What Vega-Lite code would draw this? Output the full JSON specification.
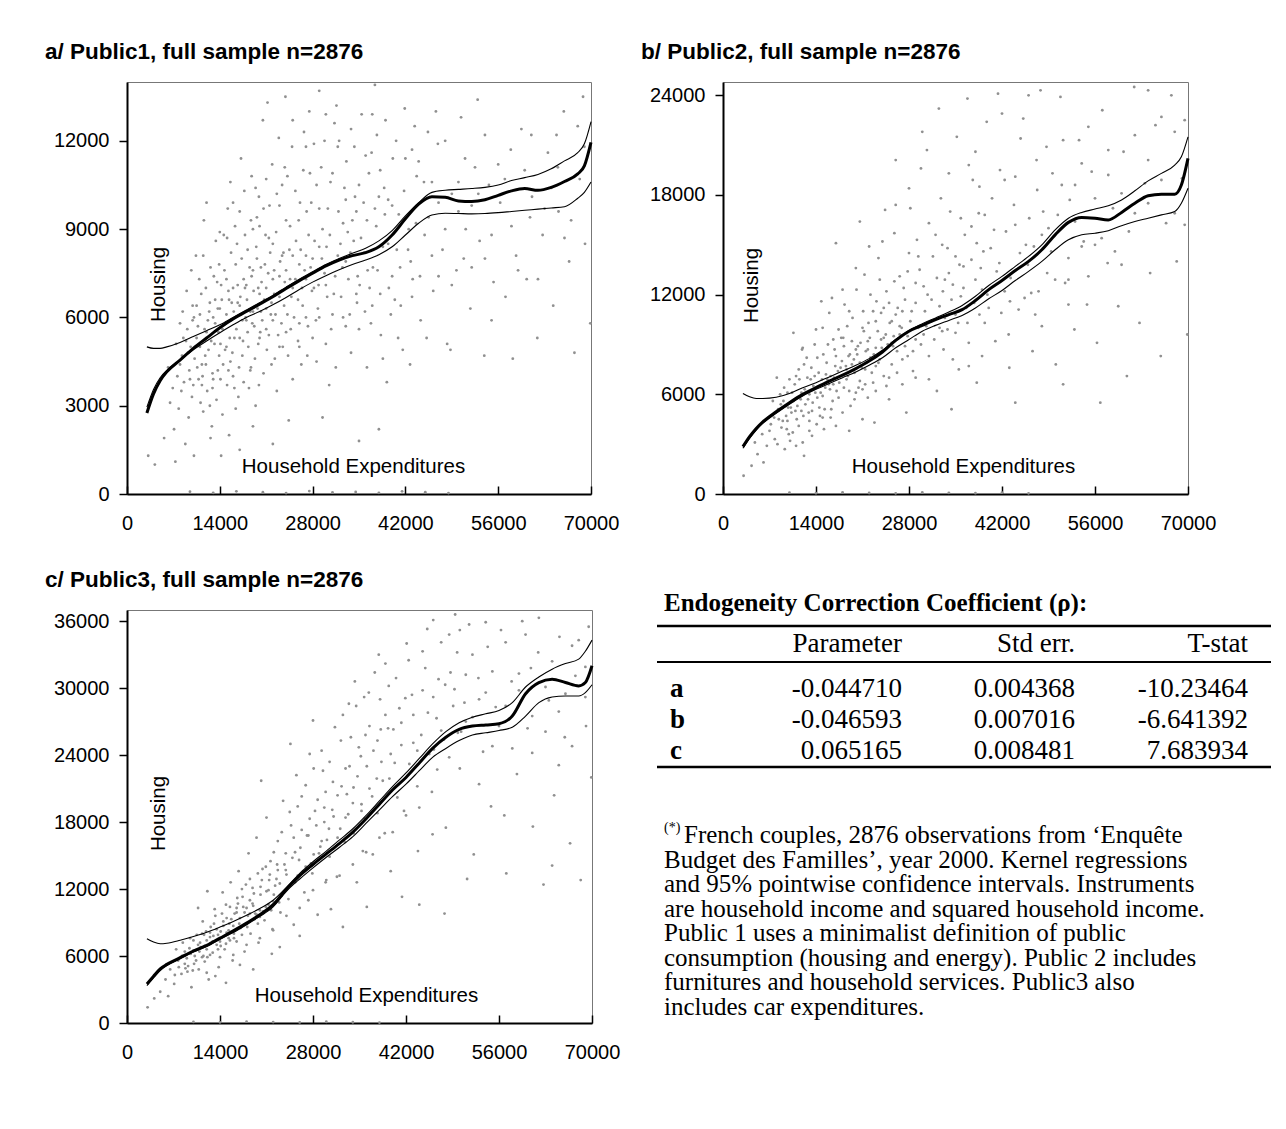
{
  "$schema": "https://vega.github.io/schema/vega-lite/v6.json",
  "background": "white",
  "padding": {"left": 44, "top": 40, "right": 5, "bottom": 5},
  "spacing": 34,
  "bounds": "full",
  "datasets": {
    "pa": [
      {"x":6200,"y":4300},{"x":6900,"y":3600},{"x":7400,"y":5100},{"x":7800,"y":2900},{"x":8300,"y":4700},{"x":8600,"y":3800},{"x":9100,"y":5600},{"x":9400,"y":4200},{"x":9800,"y":3300},{"x":9900,"y":6400},{"x":7100,"y":2200},{"x":8800,"y":1700},{"x":9600,"y":5000},{"x":6500,"y":3100},{"x":8000,"y":5800},{"x":9300,"y":2600},{"x":9700,"y":7600},{"x":8400,"y":6200},
      {"x":10200,"y":4600},{"x":10500,"y":5300},{"x":10800,"y":3900},{"x":11000,"y":6100},{"x":11300,"y":4400},{"x":11500,"y":2800},{"x":11700,"y":5600},{"x":11900,"y":7000},{"x":12100,"y":3500},{"x":12300,"y":4900},{"x":12500,"y":6500},{"x":12700,"y":5200},{"x":12900,"y":4100},{"x":13100,"y":7400},{"x":13300,"y":5800},{"x":13500,"y":3200},{"x":13700,"y":6300},{"x":13900,"y":4700},{"x":10400,"y":8100},{"x":11600,"y":9300},{"x":12800,"y":2300},{"x":13400,"y":8600},{"x":10900,"y":7300},{"x":12200,"y":5900},{"x":13800,"y":5500},{"x":11100,"y":3100},
      {"x":14100,"y":5100},{"x":14300,"y":6600},{"x":14500,"y":4400},{"x":14700,"y":7600},{"x":14900,"y":5800},{"x":15100,"y":3700},{"x":15300,"y":6900},{"x":15500,"y":5300},{"x":15700,"y":8200},{"x":15900,"y":4800},{"x":16100,"y":6200},{"x":16300,"y":9100},{"x":16500,"y":5600},{"x":16700,"y":7100},{"x":16900,"y":4300},{"x":17100,"y":6700},{"x":17300,"y":8000},{"x":17500,"y":5200},{"x":17700,"y":10300},{"x":17900,"y":6000},{"x":14400,"y":2700},{"x":15600,"y":10600},{"x":16800,"y":3300},{"x":17200,"y":11400},{"x":14600,"y":8800},{"x":15200,"y":9700},{"x":16400,"y":7800},{"x":17600,"y":7300},{"x":15800,"y":6500},{"x":16000,"y":4000},
      {"x":18100,"y":6600},{"x":18300,"y":5000},{"x":18500,"y":7700},{"x":18700,"y":9300},{"x":18900,"y":5800},{"x":19100,"y":6900},{"x":19300,"y":4600},{"x":19500,"y":8400},{"x":19700,"y":6300},{"x":19900,"y":10100},{"x":20100,"y":5500},{"x":20300,"y":7200},{"x":20500,"y":12700},{"x":20700,"y":6600},{"x":20900,"y":8800},{"x":21100,"y":4900},{"x":21300,"y":7500},{"x":21500,"y":9800},{"x":21700,"y":6100},{"x":21900,"y":11200},{"x":18400,"y":3600},{"x":19400,"y":3000},{"x":20600,"y":4100},{"x":21200,"y":13300},{"x":18800,"y":10800},{"x":20000,"y":9100},{"x":21600,"y":8200},{"x":19800,"y":7000},{"x":18600,"y":6200},{"x":20400,"y":5900},
      {"x":22200,"y":6800},{"x":22500,"y":8900},{"x":22800,"y":5400},{"x":23100,"y":7900},{"x":23400,"y":10500},{"x":23700,"y":6400},{"x":24000,"y":9300},{"x":24300,"y":4700},{"x":24600,"y":7300},{"x":24900,"y":11800},{"x":25200,"y":6000},{"x":25500,"y":8600},{"x":25800,"y":5200},{"x":26100,"y":9900},{"x":26400,"y":7000},{"x":26700,"y":12300},{"x":27000,"y":8100},{"x":27300,"y":5700},{"x":27600,"y":10900},{"x":27900,"y":6900},{"x":22600,"y":3500},{"x":23900,"y":13500},{"x":25000,"y":3900},{"x":26300,"y":4400},{"x":27500,"y":13000},{"x":22900,"y":12100},{"x":24500,"y":8300},{"x":26800,"y":7600},
      {"x":28300,"y":8600},{"x":28800,"y":6300},{"x":29300,"y":11100},{"x":29800,"y":7500},{"x":30300,"y":9700},{"x":30800,"y":5600},{"x":31300,"y":12600},{"x":31800,"y":8100},{"x":32300,"y":6700},{"x":32800,"y":10400},{"x":33300,"y":8900},{"x":33800,"y":4800},{"x":34300,"y":11800},{"x":34800,"y":7400},{"x":29000,"y":13700},{"x":30500,"y":3700},{"x":31600,"y":13200},{"x":32600,"y":9200},{"x":33600,"y":6100},{"x":34600,"y":9600},{"x":28600,"y":4500},{"x":30000,"y":7100},
      {"x":35300,"y":8700},{"x":35900,"y":6200},{"x":36500,"y":10900},{"x":37100,"y":7700},{"x":37700,"y":12200},{"x":38300,"y":5400},{"x":38900,"y":9500},{"x":39500,"y":7000},{"x":40100,"y":11400},{"x":40700,"y":8300},{"x":41300,"y":6400},{"x":41900,"y":13100},{"x":42500,"y":9000},{"x":43100,"y":7300},{"x":43700,"y":10800},{"x":44300,"y":5900},{"x":44900,"y":8800},{"x":36200,"y":4300},{"x":39200,"y":3800},{"x":41600,"y":4900},{"x":43400,"y":12500},{"x":37400,"y":13900},{"x":40400,"y":6600},{"x":42800,"y":7900},
      {"x":45500,"y":9400},{"x":46200,"y":6900},{"x":46900,"y":11900},{"x":47600,"y":8300},{"x":48300,"y":5100},{"x":49000,"y":10200},{"x":49700,"y":7600},{"x":50400,"y":12800},{"x":51100,"y":9000},{"x":51800,"y":6300},{"x":52500,"y":11100},{"x":53200,"y":8600},{"x":53900,"y":4700},{"x":54600,"y":10500},{"x":55300,"y":7200},{"x":46600,"y":13000},{"x":48800,"y":4900},{"x":50800,"y":8000},{"x":52900,"y":13400},{"x":55000,"y":5900},
      {"x":56300,"y":9900},{"x":57100,"y":6700},{"x":57900,"y":11700},{"x":58700,"y":8100},{"x":59500,"y":12400},{"x":60300,"y":7300},{"x":61100,"y":10100},{"x":61900,"y":5300},{"x":62700,"y":8800},{"x":63500,"y":11600},{"x":64300,"y":6400},{"x":65100,"y":9600},{"x":65900,"y":13000},{"x":66700,"y":7900},{"x":67500,"y":4800},{"x":68300,"y":10700},{"x":69100,"y":8500},{"x":69900,"y":5800},{"x":58200,"y":4600},{"x":60800,"y":9400},{"x":64800,"y":12200},{"x":68800,"y":13500},
      {"x":3200,"y":1300},{"x":4200,"y":1000},{"x":5600,"y":1900},{"x":7300,"y":1100},{"x":10100,"y":1300},{"x":12600,"y":1900},{"x":14200,"y":1300},{"x":15400,"y":2000},{"x":17000,"y":1500},{"x":19000,"y":2300},{"x":22000,"y":1700},{"x":24400,"y":2500},{"x":29500,"y":2600},{"x":35000,"y":1800},{"x":38000,"y":2200},
      {"x":12000,"y":5500},{"x":13000,"y":6000},{"x":14000,"y":6300},{"x":15000,"y":6100},{"x":16000,"y":7000},{"x":17000,"y":6400},{"x":18000,"y":7100},{"x":19000,"y":7600},{"x":20000,"y":6800},{"x":21000,"y":7000},{"x":22000,"y":7300},{"x":23000,"y":6700},{"x":24000,"y":7600},{"x":25000,"y":8100},{"x":26000,"y":7800},{"x":27000,"y":7300},{"x":28000,"y":8000},{"x":29000,"y":8400},{"x":11000,"y":5000},{"x":13600,"y":7200},{"x":15400,"y":6600},{"x":17400,"y":5900},{"x":19600,"y":8000},{"x":21800,"y":6500},{"x":23600,"y":8200},
      {"x":8500,"y":5300},{"x":9200,"y":4800},{"x":9900,"y":5900},{"x":10600,"y":4300},{"x":11200,"y":6800},{"x":11800,"y":4700},{"x":12400,"y":6200},{"x":13200,"y":5100},{"x":13900,"y":7800},{"x":14400,"y":5600},{"x":15000,"y":7300},{"x":15600,"y":4500},{"x":16200,"y":5300},{"x":16600,"y":8500},{"x":17200,"y":6100},{"x":17800,"y":8800},{"x":18200,"y":5500},{"x":18800,"y":7400},{"x":19200,"y":5700},{"x":19600,"y":9400},{"x":20200,"y":6200},{"x":20800,"y":7800},{"x":21400,"y":5400},{"x":22000,"y":8500},{"x":22400,"y":6100},{"x":23000,"y":9800},{"x":23300,"y":5800},{"x":23800,"y":7200},{"x":24200,"y":10800},{"x":24800,"y":6700},{"x":25400,"y":7300},{"x":25900,"y":9300},{"x":26500,"y":6400},{"x":27100,"y":9600},{"x":27700,"y":7700},{"x":28200,"y":11900},{"x":28900,"y":7100},{"x":29500,"y":9000},{"x":30100,"y":8400},{"x":30700,"y":10600},{"x":31200,"y":6800},{"x":31900,"y":9600},{"x":32500,"y":7700},{"x":33100,"y":11300},{"x":33700,"y":8200},{"x":34400,"y":10100},{"x":35100,"y":7100},{"x":35700,"y":9900},{"x":36300,"y":7600},{"x":36900,"y":11600},{"x":37600,"y":9100},{"x":38200,"y":6800},{"x":38800,"y":10400},{"x":39400,"y":8500},{"x":40000,"y":9800},{"x":40600,"y":12000},{"x":41200,"y":7700},{"x":41800,"y":10300},{"x":42400,"y":8300},{"x":43000,"y":11700},{"x":43600,"y":9200},{"x":44200,"y":7400},{"x":44800,"y":10600},{"x":45400,"y":12300},{"x":46000,"y":8100},{"x":47000,"y":9900},{"x":48000,"y":12000},{"x":49000,"y":7100},{"x":50000,"y":9600},{"x":51000,"y":11400},{"x":52000,"y":7700},{"x":53000,"y":10200},{"x":54000,"y":12200},{"x":55000,"y":8800},{"x":57000,"y":10700},{"x":59000,"y":7600},{"x":61000,"y":12200},{"x":63000,"y":9700},{"x":65000,"y":11100},{"x":67000,"y":9300},{"x":69000,"y":11800},
      {"x":10000,"y":3700},{"x":11400,"y":4000},{"x":12900,"y":3600},{"x":14100,"y":3900},{"x":15300,"y":4200},{"x":16400,"y":2900},{"x":17600,"y":3800},{"x":18700,"y":4300},{"x":19900,"y":3700},{"x":21000,"y":5600},{"x":22300,"y":4600},{"x":23500,"y":5000},{"x":24700,"y":5600},{"x":26000,"y":5800},{"x":27200,"y":4700},{"x":28500,"y":5900},{"x":30000,"y":5100},{"x":31500,"y":4300},{"x":33000,"y":5700},{"x":34700,"y":6500},{"x":36800,"y":5800},{"x":38600,"y":4600},{"x":40900,"y":5300},{"x":42700,"y":4400},{"x":45200,"y":5300},
      {"x":7600,"y":4000},{"x":8200,"y":3500},{"x":8900,"y":5200},{"x":9500,"y":3900},{"x":10100,"y":6000},{"x":10700,"y":5700},{"x":11300,"y":3700},{"x":11900,"y":4400},{"x":12500,"y":3000},{"x":12600,"y":7700},{"x":13300,"y":6600},{"x":13700,"y":4200},{"x":14200,"y":7100},{"x":14800,"y":4900},{"x":15100,"y":8700},{"x":15700,"y":5900},{"x":16200,"y":3600},{"x":16700,"y":6500},{"x":17000,"y":9600},{"x":17400,"y":4700},{"x":17800,"y":7000},{"x":18200,"y":8300},{"x":18600,"y":4200},{"x":19000,"y":6200},{"x":19400,"y":10400},{"x":19800,"y":5100},{"x":20200,"y":7700},{"x":20600,"y":9700},{"x":21000,"y":6300},{"x":21400,"y":8700},{"x":21800,"y":4400},{"x":22200,"y":7600},{"x":22600,"y":10200},{"x":23000,"y":5000},{"x":23400,"y":8100},{"x":23800,"y":11100},{"x":24200,"y":6100},{"x":24600,"y":9100},{"x":25000,"y":7000},{"x":25400,"y":10300},{"x":25800,"y":6600},{"x":26200,"y":8300},{"x":26600,"y":11000},{"x":27000,"y":6000},{"x":27400,"y":8800},{"x":27800,"y":9900},{"x":28200,"y":7000},{"x":28600,"y":10500},{"x":29000,"y":6000},{"x":29400,"y":8000},{"x":29800,"y":12000},{"x":30200,"y":6700},{"x":30600,"y":8800},{"x":31000,"y":10900},{"x":31400,"y":7400},{"x":31800,"y":11800},{"x":32200,"y":8500},{"x":32600,"y":6000},{"x":33000,"y":10000},{"x":33400,"y":7300},{"x":33800,"y":12400},{"x":34200,"y":8600},{"x":34600,"y":6800},{"x":35000,"y":10500},{"x":35400,"y":12900},{"x":35800,"y":8200},{"x":36200,"y":9300},{"x":36600,"y":7000},{"x":37000,"y":12900},{"x":37400,"y":9700},{"x":37800,"y":7600},{"x":38200,"y":11000},{"x":38600,"y":8400},{"x":39000,"y":12700},{"x":39400,"y":10000},{"x":39800,"y":6100},
      {"x":8000,"y":4400},{"x":9000,"y":6900},{"x":10500,"y":6400},{"x":11500,"y":8100},{"x":12000,"y":9900},{"x":13000,"y":3900},{"x":14000,"y":8900},{"x":15000,"y":5000},{"x":16000,"y":9900},{"x":17000,"y":5300},{"x":18000,"y":5900},{"x":19000,"y":9000},{"x":20000,"y":5300},{"x":21000,"y":10700},{"x":22000,"y":5900},{"x":23000,"y":7400},{"x":24000,"y":5500},{"x":25000,"y":12700},{"x":26000,"y":5000},{"x":27000,"y":11800},{"x":28000,"y":5300},{"x":29000,"y":9700},{"x":30000,"y":12900},{"x":31000,"y":6100},{"x":32000,"y":12000},{"x":33000,"y":7900},{"x":34000,"y":9300},{"x":35000,"y":5600},{"x":36000,"y":11500},{"x":37000,"y":6400},{"x":38000,"y":10100},{"x":40000,"y":7400},{"x":41000,"y":9500},{"x":42000,"y":11400},{"x":43000,"y":6700},{"x":44000,"y":11300},{"x":46000,"y":10600},{"x":47000,"y":7400},{"x":48000,"y":9000},{"x":50000,"y":10600},{"x":52000,"y":9800},{"x":54000,"y":8000},{"x":56000,"y":11200},{"x":58000,"y":9100},{"x":60000,"y":11000},{"x":62000,"y":7300},{"x":64000,"y":10400},{"x":66000,"y":8700},{"x":68000,"y":12500},
      {"x":9500,"y":80},{"x":13000,"y":40},{"x":16500,"y":90},{"x":20500,"y":60},{"x":24000,"y":30},{"x":27500,"y":100},{"x":31000,"y":50},{"x":34500,"y":70},{"x":38000,"y":40},{"x":41500,"y":90},{"x":45000,"y":60},{"x":48500,"y":30}
    ],
    "pb": [
      {"x":3100,"y":1100},{"x":4300,"y":1700},{"x":5200,"y":2400},{"x":5900,"y":3600},{"x":6600,"y":2900},{"x":7200,"y":4200},{"x":7800,"y":3300},{"x":8300,"y":5100},{"x":8800,"y":4000},{"x":9300,"y":2700},{"x":9700,"y":6100},{"x":6100,"y":1900},{"x":8100,"y":7000},{"x":9500,"y":4700},{"x":7500,"y":5600},{"x":4800,"y":3100},{"x":9900,"y":3600},{"x":8600,"y":6000},
      {"x":10200,"y":5200},{"x":10500,"y":3700},{"x":10800,"y":6600},{"x":11100,"y":4500},{"x":11400,"y":7500},{"x":11700,"y":5700},{"x":12000,"y":3100},{"x":12300,"y":6300},{"x":12600,"y":8200},{"x":12900,"y":4900},{"x":13200,"y":6900},{"x":13500,"y":5500},{"x":13800,"y":9000},{"x":14100,"y":4200},{"x":14400,"y":7300},{"x":14700,"y":6100},{"x":15000,"y":10000},{"x":15300,"y":5100},{"x":15600,"y":7900},{"x":15900,"y":6600},{"x":10600,"y":9700},{"x":12200,"y":2300},{"x":13400,"y":3500},{"x":14800,"y":11600},{"x":11900,"y":8700},{"x":15200,"y":3900},
      {"x":16200,"y":7100},{"x":16500,"y":5600},{"x":16800,"y":8700},{"x":17100,"y":6200},{"x":17400,"y":9900},{"x":17700,"y":7600},{"x":18000,"y":4900},{"x":18300,"y":11400},{"x":18600,"y":6900},{"x":18900,"y":8300},{"x":19200,"y":5300},{"x":19500,"y":10600},{"x":19800,"y":7300},{"x":20100,"y":12300},{"x":20400,"y":6400},{"x":20700,"y":9100},{"x":21000,"y":4500},{"x":21300,"y":13200},{"x":21600,"y":7900},{"x":21900,"y":10300},{"x":17000,"y":15100},{"x":19000,"y":3800},{"x":20600,"y":16400},{"x":21800,"y":5800},{"x":16400,"y":11800},{"x":18100,"y":9400},{"x":20000,"y":8700},{"x":21400,"y":6600},
      {"x":22200,"y":8200},{"x":22600,"y":11000},{"x":23000,"y":6200},{"x":23400,"y":14200},{"x":23800,"y":9300},{"x":24200,"y":7100},{"x":24600,"y":12200},{"x":25000,"y":5700},{"x":25400,"y":10400},{"x":25800,"y":15700},{"x":26200,"y":8600},{"x":26600,"y":13100},{"x":27000,"y":6600},{"x":27400,"y":11700},{"x":27800,"y":9500},{"x":28200,"y":17200},{"x":28600,"y":7400},{"x":29000,"y":12700},{"x":29400,"y":10000},{"x":29800,"y":19600},{"x":22800,"y":4300},{"x":24400,"y":17100},{"x":26000,"y":20100},{"x":27600,"y":4900},{"x":29200,"y":15300},{"x":23600,"y":12900},{"x":25600,"y":8900},{"x":28000,"y":14500},
      {"x":30400,"y":11000},{"x":31000,"y":8300},{"x":31600,"y":14300},{"x":32200,"y":6200},{"x":32800,"y":17800},{"x":33400,"y":10600},{"x":34000,"y":13300},{"x":34600,"y":8100},{"x":35200,"y":21500},{"x":35800,"y":11900},{"x":36400,"y":15600},{"x":37000,"y":9100},{"x":37600,"y":18900},{"x":38200,"y":6700},{"x":38800,"y":13600},{"x":39400,"y":10300},{"x":30700,"y":20700},{"x":32500,"y":23200},{"x":34400,"y":5100},{"x":36800,"y":23800},{"x":38500,"y":16900},{"x":39700,"y":22400},{"x":33100,"y":12200},{"x":35500,"y":7500},
      {"x":40300,"y":14800},{"x":41000,"y":9200},{"x":41700,"y":19500},{"x":42400,"y":12200},{"x":43100,"y":7600},{"x":43800,"y":17400},{"x":44500,"y":11100},{"x":45200,"y":22600},{"x":45900,"y":13800},{"x":46600,"y":8600},{"x":47300,"y":18300},{"x":48000,"y":10100},{"x":48700,"y":20900},{"x":49400,"y":14600},{"x":50100,"y":7800},{"x":50800,"y":23900},{"x":51500,"y":12700},{"x":52200,"y":17700},{"x":52900,"y":9900},{"x":53600,"y":21300},{"x":54300,"y":15200},{"x":41400,"y":24100},{"x":44000,"y":5500},{"x":47800,"y":24300},{"x":51200,"y":6600},{"x":54800,"y":11400},
      {"x":55500,"y":19400},{"x":56300,"y":9100},{"x":57100,"y":23100},{"x":57900,"y":13900},{"x":58700,"y":17200},{"x":59500,"y":11300},{"x":60300,"y":20600},{"x":61100,"y":15800},{"x":61900,"y":24500},{"x":62700,"y":10300},{"x":63500,"y":18700},{"x":64300,"y":13300},{"x":65100,"y":22200},{"x":65900,"y":8300},{"x":66700,"y":16300},{"x":67500,"y":24000},{"x":68300,"y":14000},{"x":69100,"y":19000},{"x":69900,"y":9600},{"x":56800,"y":5500},{"x":60800,"y":7100},{"x":64000,"y":24300},{"x":69500,"y":22500},
      {"x":9000,"y":4400},{"x":10300,"y":4900},{"x":11200,"y":5300},{"x":11800,"y":6100},{"x":12400,"y":5400},{"x":13000,"y":6000},{"x":13600,"y":6500},{"x":14200,"y":5800},{"x":14900,"y":6900},{"x":15500,"y":7200},{"x":16100,"y":6300},{"x":16700,"y":7000},{"x":17300,"y":7400},{"x":17900,"y":8000},{"x":18500,"y":7700},{"x":19100,"y":8400},{"x":19700,"y":8100},{"x":20300,"y":8900},{"x":20900,"y":7600},{"x":21500,"y":8600},{"x":22100,"y":9400},{"x":22700,"y":8400},{"x":23300,"y":9800},{"x":23900,"y":8800},{"x":24500,"y":9600},{"x":25100,"y":10300},{"x":25700,"y":9500},{"x":26300,"y":11200},{"x":26900,"y":10000},{"x":9800,"y":5200},{"x":12700,"y":7000},{"x":16600,"y":9300},{"x":18700,"y":10100},{"x":21100,"y":11000},{"x":23100,"y":11600},
      {"x":8400,"y":4500},{"x":9100,"y":5600},{"x":9600,"y":3900},{"x":10400,"y":6100},{"x":10900,"y":5000},{"x":11500,"y":6900},{"x":12100,"y":4700},{"x":12800,"y":5700},{"x":13300,"y":7600},{"x":13900,"y":6100},{"x":14500,"y":5200},{"x":15100,"y":8400},{"x":15700,"y":6900},{"x":16300,"y":5100},{"x":16900,"y":7700},{"x":17500,"y":6700},{"x":18200,"y":8900},{"x":18800,"y":7100},{"x":19400,"y":9200},{"x":20000,"y":6100},{"x":20600,"y":7900},{"x":21200,"y":9800},{"x":21800,"y":8700},{"x":22400,"y":7300},{"x":23000,"y":10400},{"x":23600,"y":8100},{"x":24200,"y":11200},{"x":24800,"y":9000},{"x":25400,"y":7800},{"x":26000,"y":10800},{"x":26600,"y":9600},{"x":27200,"y":12400},{"x":27800,"y":8300},{"x":28400,"y":11000},{"x":29000,"y":9300},{"x":29600,"y":13500},{"x":30200,"y":9600},{"x":30800,"y":12000},{"x":31400,"y":10400},{"x":32000,"y":15600},{"x":32600,"y":11300},{"x":33200,"y":8700},{"x":33800,"y":14800},{"x":34400,"y":11700},{"x":35000,"y":9700},{"x":35600,"y":13800},{"x":36200,"y":12400},{"x":36800,"y":10300},{"x":37400,"y":16100},{"x":38000,"y":12900},{"x":38600,"y":10800},{"x":39200,"y":14600},{"x":39800,"y":12000},{"x":40500,"y":17800},{"x":41200,"y":13400},{"x":41900,"y":10900},{"x":42600,"y":15800},{"x":43300,"y":13000},{"x":44000,"y":19100},{"x":44700,"y":14500},{"x":45400,"y":11800},{"x":46100,"y":16600},{"x":46800,"y":14900},{"x":47500,"y":12200},{"x":48200,"y":17000},{"x":49000,"y":16000},{"x":50000,"y":12900},{"x":51000,"y":18600},{"x":52000,"y":14200},{"x":53000,"y":16400},{"x":54000,"y":19900},{"x":55000,"y":13100},{"x":56000,"y":17800},{"x":57000,"y":15400},{"x":58000,"y":20700},{"x":59000,"y":14600},{"x":60000,"y":18100},{"x":62000,"y":16900},{"x":64000,"y":20100},{"x":66000,"y":18900},{"x":68000,"y":21800},{"x":69500,"y":16200},
      {"x":11000,"y":2900},{"x":13000,"y":4400},{"x":15000,"y":4600},{"x":17000,"y":4100},{"x":19000,"y":6200},{"x":21000,"y":6300},{"x":23000,"y":7700},{"x":25000,"y":7000},{"x":27000,"y":8100},{"x":29000,"y":7000},{"x":31000,"y":6900},{"x":33000,"y":9800},{"x":35000,"y":10800},{"x":37000,"y":7700},{"x":39000,"y":8300},{"x":43000,"y":9600},{"x":47000,"y":10800},{"x":52000,"y":11400},
      {"x":7000,"y":3800},{"x":7700,"y":4600},{"x":8200,"y":3000},{"x":8700,"y":5400},{"x":9200,"y":6400},{"x":9700,"y":4400},{"x":10100,"y":3200},{"x":10600,"y":5600},{"x":11000,"y":7100},{"x":11400,"y":4100},{"x":11800,"y":5000},{"x":12200,"y":7800},{"x":12600,"y":6100},{"x":13000,"y":3800},{"x":13400,"y":5000},{"x":13800,"y":7100},{"x":14200,"y":8200},{"x":14600,"y":4700},{"x":15000,"y":5900},{"x":15400,"y":6400},{"x":15800,"y":9000},{"x":16200,"y":4600},{"x":16600,"y":6600},{"x":17000,"y":8300},{"x":17400,"y":5800},{"x":17800,"y":9400},{"x":18200,"y":6400},{"x":18600,"y":7500},{"x":19000,"y":11000},{"x":19400,"y":7800},{"x":19800,"y":5700},{"x":20200,"y":8400},{"x":20600,"y":6800},{"x":21000,"y":10000},{"x":21400,"y":7500},{"x":21800,"y":9200},{"x":22200,"y":12000},{"x":22600,"y":6700},{"x":23000,"y":8800},{"x":23400,"y":7900},{"x":23800,"y":10900},{"x":24200,"y":9400},{"x":24600,"y":6500},{"x":25000,"y":11500},{"x":25400,"y":9100},{"x":25800,"y":12800},{"x":26200,"y":7300},{"x":26600,"y":10100},{"x":27000,"y":11000},{"x":27400,"y":8900},{"x":27800,"y":13400},{"x":28200,"y":10400},{"x":28600,"y":8600},{"x":29000,"y":11500},{"x":29400,"y":14300},{"x":29800,"y":9000},{"x":30200,"y":12500},{"x":30600,"y":10100},{"x":31000,"y":16300},{"x":31400,"y":11700},{"x":31800,"y":9300},{"x":32200,"y":13000},{"x":32600,"y":10000},{"x":33000,"y":15000},{"x":33400,"y":12900},{"x":33800,"y":9900},{"x":34200,"y":17000},{"x":34600,"y":12600},{"x":35000,"y":14300},{"x":35400,"y":10300},{"x":35800,"y":16600},{"x":36200,"y":13700},{"x":36600,"y":11200},{"x":37000,"y":19800},{"x":37400,"y":14100},{"x":37800,"y":11500},{"x":38200,"y":15100},{"x":38600,"y":18500},{"x":39000,"y":12300},{"x":39400,"y":16800},{"x":40000,"y":11200},{"x":40800,"y":15900},{"x":41600,"y":13900},{"x":42400,"y":18900},{"x":43200,"y":11600},{"x":44000,"y":16200},{"x":44800,"y":21400},{"x":45600,"y":15000},{"x":46400,"y":12100},{"x":47200,"y":20100},{"x":48000,"y":15600},{"x":48800,"y":13300},{"x":49600,"y":19300},{"x":50400,"y":16800},{"x":51200,"y":21300},{"x":52000,"y":12900},{"x":53000,"y":18600},{"x":54000,"y":14900},{"x":55000,"y":22100},{"x":56000,"y":15000},{"x":58000,"y":19200},{"x":60000,"y":13800},{"x":62000,"y":21600},{"x":64000,"y":17500},{"x":66000,"y":22700},{"x":68000,"y":16900},{"x":10000,"y":6900},{"x":12000,"y":8800},{"x":14000,"y":9900},{"x":16000,"y":10900},{"x":18000,"y":12300},{"x":20000,"y":13600},{"x":22000,"y":14900},{"x":24000,"y":15200},{"x":26000,"y":17400},{"x":28000,"y":18400},{"x":30000,"y":21800},{"x":34000,"y":19300},{"x":38000,"y":20600},{"x":42000,"y":22900},{"x":46000,"y":24000},
      {"x":10000,"y":80},{"x":14000,"y":50},{"x":18000,"y":100},{"x":22000,"y":60},{"x":26000,"y":40},{"x":30000,"y":90},{"x":34000,"y":70},{"x":38000,"y":50},{"x":42000,"y":80},{"x":46000,"y":40}
    ],
    "pc": [
      {"x":3100,"y":1400},{"x":4100,"y":2200},{"x":5000,"y":2800},{"x":5800,"y":3900},{"x":6500,"y":4800},{"x":7100,"y":3500},{"x":7700,"y":5600},{"x":8200,"y":4400},{"x":8700,"y":6400},{"x":9200,"y":5100},{"x":9700,"y":3200},{"x":6200,"y":2400},{"x":8400,"y":7200},{"x":9500,"y":7600},{"x":7400,"y":6600},{"x":9900,"y":4700},
      {"x":10200,"y":6000},{"x":10500,"y":7900},{"x":10800,"y":4800},{"x":11100,"y":6800},{"x":11400,"y":9100},{"x":11700,"y":5500},{"x":12000,"y":7400},{"x":12300,"y":3900},{"x":12600,"y":8600},{"x":12900,"y":6300},{"x":13200,"y":10200},{"x":13500,"y":7000},{"x":13800,"y":5000},{"x":14100,"y":8200},{"x":14400,"y":11700},{"x":14700,"y":6600},{"x":15000,"y":9400},{"x":15300,"y":7600},{"x":15600,"y":12600},{"x":15900,"y":5600},{"x":10700,"y":10300},{"x":12100,"y":11800},{"x":13300,"y":4200},{"x":14900,"y":3600},{"x":11600,"y":7900},{"x":15400,"y":8900},
      {"x":16200,"y":9800},{"x":16500,"y":7300},{"x":16800,"y":13600},{"x":17100,"y":8500},{"x":17400,"y":11300},{"x":17700,"y":6400},{"x":18000,"y":10300},{"x":18300,"y":15200},{"x":18600,"y":8000},{"x":18900,"y":12100},{"x":19200,"y":9300},{"x":19500,"y":16600},{"x":19800,"y":7200},{"x":20100,"y":11500},{"x":20400,"y":13800},{"x":20700,"y":9200},{"x":21000,"y":18400},{"x":21300,"y":10600},{"x":21600,"y":14500},{"x":21900,"y":8400},{"x":17000,"y":5200},{"x":19000,"y":4800},{"x":20200,"y":21700},{"x":21800,"y":6200},{"x":16600,"y":11200},{"x":18200,"y":9600},{"x":20000,"y":10100},{"x":21400,"y":12800},
      {"x":22300,"y":12300},{"x":22700,"y":16300},{"x":23100,"y":9900},{"x":23500,"y":19900},{"x":23900,"y":13700},{"x":24300,"y":11100},{"x":24700,"y":17700},{"x":25100,"y":8800},{"x":25500,"y":22200},{"x":25900,"y":14600},{"x":26300,"y":20300},{"x":26700,"y":11700},{"x":27100,"y":16800},{"x":27500,"y":24100},{"x":27900,"y":13400},{"x":28300,"y":19000},{"x":28700,"y":9700},{"x":29100,"y":15800},{"x":29500,"y":22600},{"x":29900,"y":12600},{"x":23000,"y":6800},{"x":24600,"y":25000},{"x":26000,"y":7800},{"x":28000,"y":27100},{"x":29700,"y":18000},{"x":22600,"y":14200},{"x":25300,"y":15300},{"x":27300,"y":11000},
      {"x":30400,"y":17400},{"x":31000,"y":21600},{"x":31600,"y":13100},{"x":32200,"y":25300},{"x":32800,"y":16200},{"x":33400,"y":28600},{"x":34000,"y":19700},{"x":34600,"y":12600},{"x":35200,"y":23900},{"x":35800,"y":18300},{"x":36400,"y":29600},{"x":37000,"y":15100},{"x":37600,"y":21900},{"x":38200,"y":26300},{"x":38800,"y":17000},{"x":39400,"y":30200},{"x":30700,"y":10200},{"x":32500,"y":8600},{"x":34300,"y":30600},{"x":36100,"y":10400},{"x":37900,"y":33000},{"x":39700,"y":13600},{"x":33100,"y":20500},{"x":35500,"y":15400},
      {"x":40300,"y":23300},{"x":41000,"y":28200},{"x":41700,"y":19000},{"x":42400,"y":32500},{"x":43100,"y":25100},{"x":43800,"y":15400},{"x":44500,"y":29800},{"x":45200,"y":35300},{"x":45900,"y":20700},{"x":46600,"y":27300},{"x":47300,"y":34100},{"x":48000,"y":17500},{"x":48700,"y":31400},{"x":49400,"y":36600},{"x":50100,"y":22800},{"x":50800,"y":28700},{"x":51500,"y":35700},{"x":52200,"y":15100},{"x":52900,"y":30900},{"x":53600,"y":24300},{"x":54300,"y":33700},{"x":41400,"y":11300},{"x":44000,"y":10600},{"x":47800,"y":9800},{"x":51200,"y":12900},{"x":54800,"y":19400},{"x":46200,"y":24500},{"x":49800,"y":26000},
      {"x":55500,"y":28300},{"x":56300,"y":35200},{"x":57100,"y":13400},{"x":57900,"y":30600},{"x":58700,"y":22300},{"x":59500,"y":36000},{"x":60300,"y":26400},{"x":61100,"y":17600},{"x":61900,"y":33200},{"x":62700,"y":12400},{"x":63500,"y":28900},{"x":64300,"y":20400},{"x":65100,"y":34600},{"x":65900,"y":25600},{"x":66700,"y":16100},{"x":67500,"y":31100},{"x":68300,"y":12800},{"x":69100,"y":26600},{"x":69900,"y":22000},{"x":56800,"y":18600},{"x":60800,"y":31800},{"x":64000,"y":14100},{"x":69500,"y":35500},
      {"x":9000,"y":5800},{"x":10000,"y":6500},{"x":11000,"y":7200},{"x":12000,"y":6600},{"x":13000,"y":7800},{"x":14000,"y":7300},{"x":15000,"y":8100},{"x":16000,"y":8700},{"x":17000,"y":9400},{"x":18000,"y":8900},{"x":19000,"y":10500},{"x":20000,"y":9500},{"x":11500,"y":6000},{"x":12500,"y":7700},{"x":13500,"y":8400},{"x":14500,"y":9100},{"x":15500,"y":7400},{"x":16500,"y":9900},{"x":17500,"y":10400},{"x":18500,"y":11000},{"x":19500,"y":9700},{"x":21000,"y":11800},{"x":22000,"y":10900},{"x":23000,"y":12500},{"x":24000,"y":13300},
      {"x":8800,"y":4900},{"x":9400,"y":6700},{"x":10100,"y":5300},{"x":10700,"y":7000},{"x":11300,"y":5900},{"x":11900,"y":8200},{"x":12500,"y":6100},{"x":13100,"y":8900},{"x":13700,"y":6600},{"x":14300,"y":9800},{"x":14900,"y":7100},{"x":15500,"y":10400},{"x":16100,"y":8000},{"x":16700,"y":10700},{"x":17300,"y":7900},{"x":17900,"y":12400},{"x":18500,"y":9800},{"x":19100,"y":11600},{"x":19700,"y":8900},{"x":20300,"y":12800},{"x":20900,"y":10400},{"x":21500,"y":13300},{"x":22100,"y":11500},{"x":22700,"y":13700},{"x":23300,"y":11400},{"x":23900,"y":15200},{"x":24500,"y":12300},{"x":25100,"y":16600},{"x":25700,"y":13200},{"x":26300,"y":17300},{"x":26900,"y":14000},{"x":27500,"y":18300},{"x":28100,"y":15100},{"x":28700,"y":20000},{"x":29300,"y":16300},{"x":29900,"y":20700},{"x":30500,"y":14900},{"x":31100,"y":18500},{"x":31700,"y":16600},{"x":32300,"y":21200},{"x":32900,"y":18400},{"x":33500,"y":23000},{"x":34100,"y":17000},{"x":34700,"y":22100},{"x":35300,"y":19600},{"x":35900,"y":25800},{"x":36500,"y":21000},{"x":37100,"y":24400},{"x":37700,"y":18800},{"x":38300,"y":23400},{"x":38900,"y":27600},{"x":39500,"y":21900},{"x":40100,"y":26300},{"x":40700,"y":20200},{"x":41300,"y":24900},{"x":41900,"y":29100},{"x":42500,"y":23200},{"x":43100,"y":27600},{"x":43700,"y":21200},{"x":44300,"y":25800},{"x":44900,"y":31800},{"x":45500,"y":24100},{"x":46100,"y":29200},{"x":46700,"y":22700},{"x":47300,"y":26200},{"x":47900,"y":30300},{"x":48500,"y":23800},{"x":49100,"y":28400},{"x":49700,"y":33200},{"x":50300,"y":26100},{"x":51000,"y":31200},{"x":52000,"y":27400},{"x":53000,"y":21400},{"x":54000,"y":29600},{"x":55000,"y":24800},{"x":57000,"y":28400},{"x":59000,"y":31300},{"x":61000,"y":24200},{"x":63000,"y":30100},{"x":65000,"y":27900},{"x":67000,"y":33800},{"x":69000,"y":29200},
      {"x":12000,"y":4500},{"x":14000,"y":5900},{"x":16000,"y":6100},{"x":18000,"y":7000},{"x":20000,"y":7600},{"x":22000,"y":8300},{"x":24000,"y":9600},{"x":26000,"y":10300},{"x":28000,"y":11900},{"x":30000,"y":12800},{"x":32000,"y":13200},{"x":34000,"y":14200},{"x":36000,"y":15300},{"x":38000,"y":16600},{"x":40000,"y":17100},{"x":42000,"y":18600},{"x":44000,"y":19300},{"x":46000,"y":16900},
      {"x":7200,"y":4300},{"x":7800,"y":5000},{"x":8300,"y":6000},{"x":8700,"y":5300},{"x":9100,"y":4600},{"x":9600,"y":6200},{"x":10000,"y":7400},{"x":10400,"y":5600},{"x":10900,"y":6400},{"x":11300,"y":8000},{"x":11700,"y":6900},{"x":12100,"y":5900},{"x":12500,"y":8100},{"x":12900,"y":7300},{"x":13300,"y":9600},{"x":13700,"y":7900},{"x":14100,"y":6900},{"x":14500,"y":8700},{"x":14900,"y":10600},{"x":15300,"y":8300},{"x":15700,"y":9300},{"x":16100,"y":7600},{"x":16500,"y":10300},{"x":16900,"y":8900},{"x":17300,"y":12000},{"x":17700,"y":9900},{"x":18100,"y":8600},{"x":18500,"y":12900},{"x":18900,"y":10700},{"x":19300,"y":9800},{"x":19700,"y":13400},{"x":20100,"y":12200},{"x":20500,"y":10000},{"x":20900,"y":14000},{"x":21300,"y":11900},{"x":21700,"y":10100},{"x":22100,"y":15300},{"x":22500,"y":12900},{"x":22900,"y":10800},{"x":23300,"y":17100},{"x":23700,"y":14200},{"x":24100,"y":12000},{"x":24500,"y":18900},{"x":24900,"y":14800},{"x":25300,"y":12600},{"x":25700,"y":19400},{"x":26100,"y":15700},{"x":26500,"y":13600},{"x":26900,"y":21300},{"x":27300,"y":16800},{"x":27700,"y":14300},{"x":28100,"y":22800},{"x":28500,"y":17700},{"x":28900,"y":15200},{"x":29300,"y":24400},{"x":29700,"y":19300},{"x":30100,"y":16400},{"x":30500,"y":23400},{"x":30900,"y":19100},{"x":31300,"y":26500},{"x":31700,"y":20400},{"x":32100,"y":17400},{"x":32500,"y":27600},{"x":32900,"y":22800},{"x":33300,"y":18700},{"x":33700,"y":25600},{"x":34100,"y":21100},{"x":34500,"y":28400},{"x":34900,"y":24700},{"x":35300,"y":19000},{"x":35700,"y":29200},{"x":36100,"y":23000},{"x":36500,"y":26600},{"x":36900,"y":20300},{"x":37300,"y":31400},{"x":37700,"y":25300},{"x":38100,"y":29000},{"x":38500,"y":21700},{"x":38900,"y":32200},{"x":39300,"y":26400},{"x":39700,"y":24100},{"x":40500,"y":30900},{"x":41300,"y":26900},{"x":42100,"y":34000},{"x":42900,"y":29400},{"x":43700,"y":24400},{"x":44500,"y":33300},{"x":45300,"y":27800},{"x":46100,"y":36100},{"x":46900,"y":30800},{"x":47700,"y":25400},{"x":48500,"y":34800},{"x":49300,"y":29900},{"x":50100,"y":35200},{"x":51000,"y":27000},{"x":52000,"y":33000},{"x":53000,"y":29000},{"x":54000,"y":35900},{"x":55000,"y":31500},{"x":56000,"y":26600},{"x":57000,"y":34100},{"x":58000,"y":24600},{"x":59000,"y":29800},{"x":60000,"y":34800},{"x":61000,"y":27500},{"x":62000,"y":36300},{"x":63000,"y":26100},{"x":64000,"y":32400},{"x":65000,"y":23100},{"x":66000,"y":29500},{"x":67000,"y":24800},{"x":68000,"y":34300},{"x":69000,"y":31900},
      {"x":10000,"y":100},{"x":14000,"y":60},{"x":18000,"y":120},{"x":22000,"y":80},{"x":26000,"y":50},{"x":30000,"y":110},{"x":34000,"y":70},{"x":38000,"y":40}
    ],
    "ca": [
      {"x":3000,"f":2750,"h":5000,"l":2950},{"x":4000,"f":3400,"h":4950,"l":3550},{"x":5000,"f":3850,"h":4950,"l":3950},{"x":6000,"f":4150,"h":5000,"l":4200},{"x":8000,"f":4550,"h":5150,"l":4550},{"x":10000,"f":4950,"h":5350,"l":4900},{"x":12000,"f":5300,"h":5550,"l":5200},{"x":14000,"f":5650,"h":5750,"l":5480},{"x":16000,"f":5950,"h":6000,"l":5750},{"x":18000,"f":6200,"h":6250,"l":6000},{"x":20000,"f":6450,"h":6500,"l":6200},{"x":22000,"f":6700,"h":6750,"l":6430},{"x":24000,"f":6980,"h":7030,"l":6680},{"x":26000,"f":7250,"h":7300,"l":6950},{"x":28000,"f":7500,"h":7550,"l":7200},{"x":30000,"f":7750,"h":7800,"l":7420},{"x":32000,"f":7950,"h":8000,"l":7620},{"x":34000,"f":8100,"h":8180,"l":7800},{"x":36000,"f":8200,"h":8350,"l":7950},{"x":38000,"f":8400,"h":8600,"l":8130},{"x":40000,"f":8800,"h":8950,"l":8400},{"x":42000,"f":9350,"h":9450,"l":8800},{"x":44000,"f":9850,"h":9900,"l":9200},{"x":46000,"f":10100,"h":10250,"l":9480},{"x":48000,"f":10080,"h":10320,"l":9540},{"x":50000,"f":9960,"h":10350,"l":9530},{"x":52000,"f":9940,"h":10380,"l":9520},{"x":54000,"f":10000,"h":10420,"l":9530},{"x":56000,"f":10150,"h":10500,"l":9560},{"x":58000,"f":10300,"h":10650,"l":9600},{"x":60000,"f":10380,"h":10750,"l":9640},{"x":62000,"f":10320,"h":10860,"l":9680},{"x":64000,"f":10420,"h":11050,"l":9720},{"x":66000,"f":10620,"h":11320,"l":9760},{"x":68000,"f":10880,"h":11600,"l":10050},{"x":69000,"f":11150,"h":11900,"l":10250},{"x":70000,"f":11950,"h":12650,"l":10600}
    ],
    "cb": [
      {"x":3000,"f":2850,"h":6050,"l":2750},{"x":4000,"f":3450,"h":5850,"l":3350},{"x":5000,"f":3950,"h":5750,"l":3850},{"x":6000,"f":4350,"h":5750,"l":4250},{"x":8000,"f":4950,"h":5820,"l":4850},{"x":10000,"f":5500,"h":6050,"l":5400},{"x":12000,"f":6000,"h":6400,"l":5900},{"x":14000,"f":6400,"h":6700,"l":6300},{"x":16000,"f":6800,"h":7050,"l":6650},{"x":18000,"f":7150,"h":7400,"l":7000},{"x":20000,"f":7550,"h":7750,"l":7350},{"x":22000,"f":8000,"h":8150,"l":7750},{"x":24000,"f":8550,"h":8650,"l":8200},{"x":26000,"f":9250,"h":9300,"l":8800},{"x":28000,"f":9800,"h":9850,"l":9300},{"x":30000,"f":10150,"h":10250,"l":9800},{"x":32000,"f":10500,"h":10600,"l":10150},{"x":34000,"f":10800,"h":10950,"l":10450},{"x":36000,"f":11100,"h":11350,"l":10750},{"x":38000,"f":11650,"h":11900,"l":11200},{"x":40000,"f":12300,"h":12550,"l":11750},{"x":42000,"f":12850,"h":13100,"l":12250},{"x":44000,"f":13450,"h":13700,"l":12850},{"x":46000,"f":14000,"h":14300,"l":13400},{"x":48000,"f":14700,"h":15000,"l":14000},{"x":50000,"f":15600,"h":15900,"l":14700},{"x":52000,"f":16350,"h":16600,"l":15300},{"x":54000,"f":16650,"h":16950,"l":15600},{"x":56000,"f":16600,"h":17150,"l":15700},{"x":58000,"f":16500,"h":17350,"l":15850},{"x":60000,"f":16950,"h":17700,"l":16150},{"x":62000,"f":17500,"h":18250,"l":16400},{"x":64000,"f":17950,"h":18850,"l":16600},{"x":66000,"f":18050,"h":19300,"l":16800},{"x":68000,"f":18050,"h":19800,"l":17000},{"x":69000,"f":18600,"h":20300,"l":17500},{"x":70000,"f":20200,"h":21500,"l":18400}
    ],
    "cc": [
      {"x":3000,"f":3500,"h":7550,"l":3350},{"x":4000,"f":4200,"h":7250,"l":4050},{"x":5000,"f":4850,"h":7100,"l":4700},{"x":6000,"f":5250,"h":7150,"l":5150},{"x":8000,"f":5850,"h":7420,"l":5750},{"x":10000,"f":6450,"h":7750,"l":6350},{"x":12000,"f":6950,"h":8130,"l":6850},{"x":14000,"f":7600,"h":8600,"l":7500},{"x":16000,"f":8250,"h":9100,"l":8100},{"x":18000,"f":8950,"h":9650,"l":8800},{"x":20000,"f":9700,"h":10250,"l":9550},{"x":22000,"f":10600,"h":11000,"l":10400},{"x":24000,"f":12000,"h":12150,"l":11800},{"x":26000,"f":13200,"h":13400,"l":12900},{"x":28000,"f":14200,"h":14450,"l":13900},{"x":30000,"f":15150,"h":15400,"l":14850},{"x":32000,"f":16100,"h":16400,"l":15750},{"x":34000,"f":17100,"h":17400,"l":16700},{"x":36000,"f":18300,"h":18600,"l":17900},{"x":38000,"f":19600,"h":19900,"l":19100},{"x":40000,"f":20900,"h":21200,"l":20300},{"x":42000,"f":22000,"h":22400,"l":21400},{"x":44000,"f":23300,"h":23700,"l":22600},{"x":46000,"f":24600,"h":25000,"l":23800},{"x":48000,"f":25600,"h":26100,"l":24600},{"x":50000,"f":26300,"h":26900,"l":25300},{"x":52000,"f":26600,"h":27400,"l":25800},{"x":54000,"f":26700,"h":27700,"l":26000},{"x":56000,"f":26800,"h":28000,"l":26200},{"x":58000,"f":27500,"h":28700,"l":26500},{"x":60000,"f":29500,"h":30100,"l":27500},{"x":62000,"f":30500,"h":31000,"l":28700},{"x":64000,"f":30800,"h":31700,"l":29200},{"x":66000,"f":30500,"h":32200,"l":29300},{"x":68000,"f":30200,"h":32600,"l":29300},{"x":69000,"f":30500,"h":33300,"l":29600},{"x":70000,"f":32000,"h":34300,"l":30300}
    ],
    "tbl": [
      {"row":"hdr","col":"Parameter","v":"Parameter"},{"row":"hdr","col":"Std err.","v":"Std err."},{"row":"hdr","col":"T-stat","v":"T-stat"},
      {"row":"a","col":"lbl","v":"a"},{"row":"a","col":"Parameter","v":"-0.044710"},{"row":"a","col":"Std err.","v":"0.004368"},{"row":"a","col":"T-stat","v":"-10.23464"},
      {"row":"b","col":"lbl","v":"b"},{"row":"b","col":"Parameter","v":"-0.046593"},{"row":"b","col":"Std err.","v":"0.007016"},{"row":"b","col":"T-stat","v":"-6.641392"},
      {"row":"c","col":"lbl","v":"c"},{"row":"c","col":"Parameter","v":"0.065165"},{"row":"c","col":"Std err.","v":"0.008481"},{"row":"c","col":"T-stat","v":"7.683934"}
    ],
    "notes": [
      {"line":"n1","t":"French couples, 2876 observations from ‘Enquête"},
      {"line":"n2","t":"Budget des Familles’, year 2000. Kernel regressions"},
      {"line":"n3","t":"and 95% pointwise confidence intervals. Instruments"},
      {"line":"n4","t":"are household income and squared household income."},
      {"line":"n5","t":"Public 1 uses a minimalist definition of public"},
      {"line":"n6","t":"consumption (housing and energy). Public 2 includes"},
      {"line":"n7","t":"furnitures and household services. Public3 also"},
      {"line":"n8","t":"includes car expenditures."}
    ]
  },
  "vconcat": [
    {
      "hconcat": [
        {
          "width": 464, "height": 412,
          "title": {"text": "a/ Public1, full sample n=2876", "anchor": "start", "frame": "group", "dx": -82, "offset": 1, "baseline": "alphabetic", "fontSize": 22.5, "font": "Liberation Sans", "fontWeight": "bold", "color": "black"},
          "encoding": {
            "x": {"field": "x", "type": "quantitative", "scale": {"domain": [0, 70000], "nice": false, "zero": false},
                  "axis": {"values": [0, 14000, 28000, 42000, 56000, 70000], "format": "d", "title": "Household Expenditures", "titleX": 226, "titleY": -28}},
            "y": {"field": "y", "type": "quantitative", "scale": {"domain": [0, 14000], "nice": false},
                  "axis": {"values": [0, 3000, 6000, 9000, 12000], "format": "d", "title": "Housing", "titleX": 31, "titleY": 202}}
          },
          "layer": [
            {"data": {"name": "pa"}, "mark": {"type": "circle", "size": 8, "color": "#909090", "opacity": 1}},
            {"data": {"name": "ca"}, "transform": [{"fold": ["h", "l"], "as": ["s", "y"]}], "mark": {"type": "line", "color": "black", "strokeWidth": 1.1, "interpolate": "monotone"}, "encoding": {"detail": {"field": "s"}}},
            {"data": {"name": "ca"}, "transform": [{"fold": ["f"], "as": ["s", "y"]}], "mark": {"type": "line", "color": "black", "strokeWidth": 3, "interpolate": "monotone"}}
          ]
        },
        {
          "width": 465, "height": 412,
          "title": {"text": "b/ Public2, full sample n=2876", "anchor": "start", "frame": "group", "dx": -82, "offset": 1, "baseline": "alphabetic", "fontSize": 22.5, "font": "Liberation Sans", "fontWeight": "bold", "color": "black"},
          "encoding": {
            "x": {"field": "x", "type": "quantitative", "scale": {"domain": [0, 70000], "nice": false, "zero": false},
                  "axis": {"values": [0, 14000, 28000, 42000, 56000, 70000], "format": "d", "title": "Household Expenditures", "titleX": 240, "titleY": -28}},
            "y": {"field": "y", "type": "quantitative", "scale": {"domain": [0, 24800], "nice": false},
                  "axis": {"values": [0, 6000, 12000, 18000, 24000], "format": "d", "title": "Housing", "titleX": 28, "titleY": 203}}
          },
          "layer": [
            {"data": {"name": "pb"}, "mark": {"type": "circle", "size": 8, "color": "#909090", "opacity": 1}},
            {"data": {"name": "cb"}, "transform": [{"fold": ["h", "l"], "as": ["s", "y"]}], "mark": {"type": "line", "color": "black", "strokeWidth": 1.1, "interpolate": "monotone"}, "encoding": {"detail": {"field": "s"}}},
            {"data": {"name": "cb"}, "transform": [{"fold": ["f"], "as": ["s", "y"]}], "mark": {"type": "line", "color": "black", "strokeWidth": 3, "interpolate": "monotone"}}
          ]
        }
      ],
      "spacing": 132,
      "bounds": "flush"
    },
    {
      "hconcat": [
        {
          "width": 465, "height": 413,
          "title": {"text": "c/ Public3, full sample n=2876", "anchor": "start", "frame": "group", "dx": -82, "offset": 1, "baseline": "alphabetic", "fontSize": 22.5, "font": "Liberation Sans", "fontWeight": "bold", "color": "black"},
          "encoding": {
            "x": {"field": "x", "type": "quantitative", "scale": {"domain": [0, 70000], "nice": false, "zero": false},
                  "axis": {"values": [0, 14000, 28000, 42000, 56000, 70000], "format": "d", "title": "Household Expenditures", "titleX": 239, "titleY": -28}},
            "y": {"field": "y", "type": "quantitative", "scale": {"domain": [0, 37000], "nice": false},
                  "axis": {"values": [0, 6000, 12000, 18000, 24000, 30000, 36000], "format": "d", "title": "Housing", "titleX": 31, "titleY": 203}}
          },
          "layer": [
            {"data": {"name": "pc"}, "mark": {"type": "circle", "size": 8, "color": "#909090", "opacity": 1}},
            {"data": {"name": "cc"}, "transform": [{"fold": ["h", "l"], "as": ["s", "y"]}], "mark": {"type": "line", "color": "black", "strokeWidth": 1.1, "interpolate": "monotone"}, "encoding": {"detail": {"field": "s"}}},
            {"data": {"name": "cc"}, "transform": [{"fold": ["f"], "as": ["s", "y"]}], "mark": {"type": "line", "color": "black", "strokeWidth": 3, "interpolate": "monotone"}}
          ]
        },
        {
          "width": 614, "height": 413,
          "view": {"stroke": null},
          "title": {"text": "Endogeneity Correction Coefficient (ρ):", "anchor": "start", "frame": "group", "dx": 7, "offset": -26, "baseline": "alphabetic", "fontSize": 25, "font": "Liberation Serif", "fontWeight": "bold", "color": "black"},
          "resolve": {"scale": {"y": "independent"}},
          "layer": [
            {
              "data": {"values": [{"row": "hdr"}]},
              "mark": {"type": "rule", "color": "black", "strokeWidth": 2.5},
              "encoding": {"y": {"field": "row", "type": "nominal", "bandPosition": 0, "axis": null,
                "scale": {"type": "band", "domain": ["hdr"], "range": [16, 52]}}}
            },
            {
              "data": {"values": [{"row": "hdr"}]},
              "mark": {"type": "rule", "color": "black", "strokeWidth": 2},
              "encoding": {"y": {"field": "row", "type": "nominal", "bandPosition": 1, "axis": null,
                "scale": {"type": "band", "domain": ["hdr"], "range": [16, 52]}}}
            },
            {
              "data": {"values": [{"row": "c"}]},
              "mark": {"type": "rule", "color": "black", "strokeWidth": 2.5},
              "encoding": {"y": {"field": "row", "type": "nominal", "bandPosition": 1, "axis": null,
                "scale": {"type": "band", "domain": ["a", "b", "c"], "range": [63, 157]}}}
            },
            {
              "data": {"name": "tbl"},
              "transform": [{"filter": "datum.row === 'hdr'"}],
              "mark": {"type": "text", "align": "right", "baseline": "middle", "font": "Liberation Serif", "fontSize": 27, "color": "black"},
              "encoding": {
                "x": {"field": "col", "type": "nominal", "axis": null, "scale": {"type": "point", "domain": ["lbl", "Parameter", "Std err.", "T-stat"], "padding": 0.2746, "align": 0.758}},
                "y": {"field": "row", "type": "nominal", "bandPosition": 0.5, "axis": null,
                  "scale": {"type": "band", "domain": ["hdr"], "range": [16, 52]}},
                "text": {"field": "v"}
              }
            },
            {
              "data": {"name": "tbl"},
              "transform": [{"filter": "datum.row !== 'hdr' && datum.col !== 'lbl'"}],
              "mark": {"type": "text", "align": "right", "baseline": "middle", "font": "Liberation Serif", "fontSize": 27, "color": "black"},
              "encoding": {
                "x": {"field": "col", "type": "nominal", "axis": null, "scale": {"type": "point", "domain": ["lbl", "Parameter", "Std err.", "T-stat"], "padding": 0.2746, "align": 0.758}},
                "y": {"field": "row", "type": "nominal", "bandPosition": 0.5, "axis": null,
                  "scale": {"type": "band", "domain": ["a", "b", "c"], "range": [63, 157]}},
                "text": {"field": "v"}
              }
            },
            {
              "data": {"name": "tbl"},
              "transform": [{"filter": "datum.col === 'lbl'"}],
              "mark": {"type": "text", "align": "left", "dx": -59, "baseline": "middle", "font": "Liberation Serif", "fontSize": 27, "fontWeight": "bold", "color": "black"},
              "encoding": {
                "x": {"field": "col", "type": "nominal", "axis": null, "scale": {"type": "point", "domain": ["lbl", "Parameter", "Std err.", "T-stat"], "padding": 0.2746, "align": 0.758}},
                "y": {"field": "row", "type": "nominal", "bandPosition": 0.5, "axis": null,
                  "scale": {"type": "band", "domain": ["a", "b", "c"], "range": [63, 157]}},
                "text": {"field": "v"}
              }
            },
            {
              "data": {"name": "notes"},
              "transform": [{"filter": "datum.line !== 'n1'"}],
              "mark": {"type": "text", "align": "left", "baseline": "middle", "font": "Liberation Serif", "fontSize": 25, "color": "black"},
              "encoding": {
                "x": {"value": 7},
                "y": {"field": "line", "type": "nominal", "axis": null,
                  "scale": {"type": "band", "domain": ["n1", "n2", "n3", "n4", "n5", "n6", "n7", "n8"], "range": [212.7, 409.3]}},
                "text": {"field": "t"}
              }
            },
            {
              "data": {"name": "notes"},
              "transform": [{"filter": "datum.line === 'n1'"}],
              "mark": {"type": "text", "align": "left", "baseline": "middle", "font": "Liberation Serif", "fontSize": 25, "color": "black", "dx": 20},
              "encoding": {
                "x": {"value": 7},
                "y": {"field": "line", "type": "nominal", "axis": null,
                  "scale": {"type": "band", "domain": ["n1", "n2", "n3", "n4", "n5", "n6", "n7", "n8"], "range": [212.7, 409.3]}},
                "text": {"field": "t"}
              }
            },
            {
              "data": {"values": [{"line": "n1", "t": "(*)"}]},
              "mark": {"type": "text", "align": "left", "baseline": "middle", "font": "Liberation Serif", "fontSize": 14, "color": "black", "dy": -7},
              "encoding": {
                "x": {"value": 7},
                "y": {"field": "line", "type": "nominal", "axis": null,
                  "scale": {"type": "band", "domain": ["n1", "n2", "n3", "n4", "n5", "n6", "n7", "n8"], "range": [212.7, 409.3]}},
                "text": {"field": "t"}
              }
            }
          ]
        }
      ],
      "spacing": 65,
      "bounds": "flush"
    }
  ],
  "config": {
    "view": {"stroke": "#777", "strokeWidth": 1},
    "axis": {"grid": false, "domainColor": "black", "domainWidth": 2, "tickColor": "black", "tickWidth": 1.5,
             "labelFont": "Liberation Sans", "labelFontSize": 20, "labelColor": "black",
             "titleFont": "Liberation Sans", "titleFontSize": 20.5, "titleFontWeight": "normal", "titleColor": "black",
             "labelFlush": false, "labelOverlap": false, "labelBound": false},
    "axisX": {"tickSize": -8, "labelPadding": 27, "titleAlign": "center", "titleBaseline": "middle", "titleAngle": 0},
    "axisY": {"tickSize": 8, "labelPadding": 10, "titleAngle": 270, "titleAlign": "center", "titleBaseline": "middle"}
  }
}
